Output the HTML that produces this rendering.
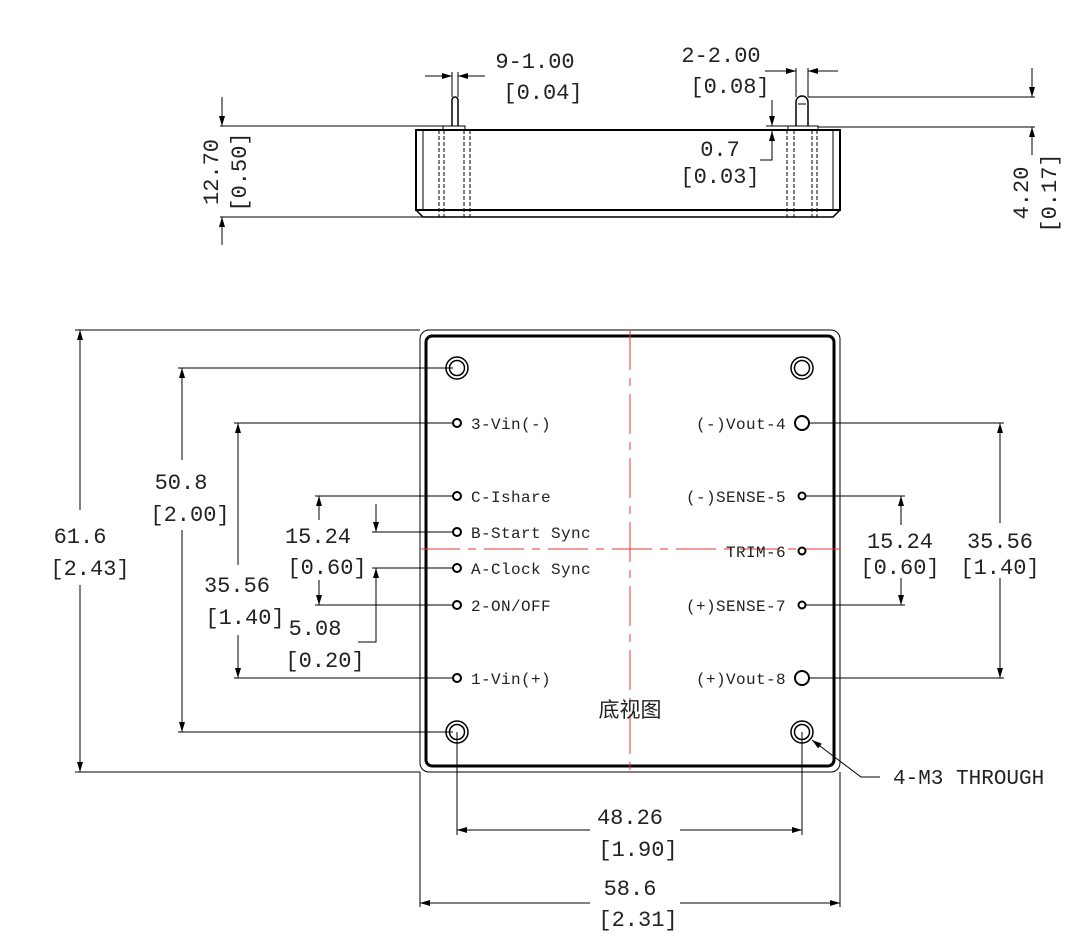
<!DOCTYPE html>
<html><head><meta charset="utf-8"><style>
html,body{margin:0;padding:0;background:#fff}
svg{display:block}
text{font-family:"Liberation Mono","Noto Serif CJK SC",monospace;fill:#222}
.d{font-size:22px;text-anchor:middle}
.l{font-size:16px;letter-spacing:0.4px}
</style></head><body>
<svg width="1089" height="948" viewBox="0 0 1089 948" xmlns="http://www.w3.org/2000/svg">
<defs>
<marker id="a" viewBox="0 0 10 10" refX="10" refY="5" markerWidth="10" markerHeight="10" markerUnits="userSpaceOnUse" orient="auto-start-reverse"><path d="M0,2 L10,5 L0,8 z" fill="#000"/></marker>
</defs>
<g stroke="#000" fill="none" stroke-width="1">
<rect x="416" y="130" width="424" height="80" stroke-width="2"/>
<path d="M416,210 L423,217 L833,217 L840,210" stroke-width="1.5"/>
<line x1="423" y1="130" x2="423" y2="210"/><line x1="833" y1="130" x2="833" y2="210"/>
<rect x="443" y="126" width="22" height="4"/><rect x="788" y="126" width="30" height="4"/>
<g stroke-dasharray="4,2">
<line x1="439" y1="130" x2="439" y2="217"/><line x1="444" y1="130" x2="444" y2="217"/><line x1="464" y1="130" x2="464" y2="217"/><line x1="470" y1="130" x2="470" y2="217"/>
<line x1="787" y1="130" x2="787" y2="217"/><line x1="794" y1="130" x2="794" y2="217"/><line x1="812" y1="130" x2="812" y2="217"/><line x1="817" y1="130" x2="817" y2="217"/>
</g>
<path d="M452,126 L452,100 A3,3 0 0 1 458,100 L458,126" stroke-width="1.5"/>
<path d="M796,126 L796,102 A6,6 0 0 1 808,102 L808,126" stroke-width="1.5"/>
<line x1="798" y1="104" x2="806" y2="104"/>
<line x1="220" y1="126" x2="443" y2="126"/><line x1="220" y1="217" x2="430" y2="217"/>
<line x1="222" y1="97" x2="222" y2="126" marker-end="url(#a)"/><line x1="222" y1="245" x2="222" y2="217" marker-end="url(#a)"/>
<line x1="808" y1="97" x2="1035" y2="97"/><line x1="818" y1="127" x2="1035" y2="127"/>
<line x1="1032" y1="68" x2="1032" y2="97" marker-end="url(#a)"/><line x1="1032" y1="155" x2="1032" y2="127" marker-end="url(#a)"/>
<line x1="452" y1="72" x2="452" y2="97"/><line x1="458" y1="72" x2="458" y2="97"/>
<line x1="425" y1="76" x2="452" y2="76" marker-end="url(#a)"/><line x1="485" y1="76" x2="458" y2="76" marker-end="url(#a)"/>
<line x1="796" y1="68" x2="796" y2="97"/><line x1="808" y1="68" x2="808" y2="97"/>
<line x1="765" y1="71" x2="796" y2="71" marker-end="url(#a)"/><line x1="838" y1="71" x2="808" y2="71" marker-end="url(#a)"/>
<line x1="772" y1="100" x2="772" y2="126" marker-end="url(#a)"/><path d="M760,160 L772,160 L772,131" marker-end="url(#a)"/>
<line x1="766" y1="126" x2="788" y2="126"/>
<rect x="420" y="330" width="420" height="442" rx="9"/>
<rect x="426" y="336" width="408" height="430" rx="6" stroke-width="3"/>
<g stroke="#e33" stroke-dasharray="40,8,8,8">
<line x1="630" y1="330" x2="630" y2="772"/><line x1="420" y1="549" x2="840" y2="549"/>
</g>
<g stroke-width="1.5">
<circle cx="457" cy="368" r="11"/><circle cx="457" cy="368" r="7.5"/>
<circle cx="802" cy="368" r="11"/><circle cx="802" cy="368" r="7.5"/>
<circle cx="457" cy="732" r="11"/><circle cx="457" cy="732" r="7.5"/>
<circle cx="802" cy="732" r="11"/><circle cx="802" cy="732" r="7.5"/>
</g>
<g stroke-width="2">
<circle cx="457" cy="423" r="4"/><circle cx="457" cy="496" r="4"/><circle cx="457" cy="532" r="4"/><circle cx="457" cy="568" r="4"/><circle cx="457" cy="605" r="4"/><circle cx="457" cy="678" r="4"/>
<circle cx="802" cy="423" r="7"/><circle cx="802" cy="496" r="3.5"/><circle cx="802" cy="551" r="3.5"/><circle cx="802" cy="605" r="3.5"/><circle cx="802" cy="678" r="7"/>
</g>
<line x1="75" y1="330" x2="420" y2="330"/><line x1="75" y1="772" x2="420" y2="772"/>
<line x1="80" y1="510" x2="80" y2="330" marker-end="url(#a)"/><line x1="80" y1="585" x2="80" y2="772" marker-end="url(#a)"/>
<line x1="178" y1="368" x2="453" y2="368"/><line x1="178" y1="732" x2="453" y2="732"/>
<line x1="182" y1="460" x2="182" y2="368" marker-end="url(#a)"/><line x1="182" y1="530" x2="182" y2="732" marker-end="url(#a)"/>
<line x1="234" y1="423" x2="453" y2="423"/><line x1="234" y1="678" x2="453" y2="678"/>
<line x1="238" y1="565" x2="238" y2="423" marker-end="url(#a)"/><line x1="238" y1="635" x2="238" y2="678" marker-end="url(#a)"/>
<line x1="315" y1="496" x2="453" y2="496"/><line x1="315" y1="605" x2="453" y2="605"/>
<line x1="319" y1="520" x2="319" y2="496" marker-end="url(#a)"/><line x1="319" y1="580" x2="319" y2="605" marker-end="url(#a)"/>
<line x1="372" y1="532" x2="453" y2="532"/><line x1="372" y1="568" x2="453" y2="568"/>
<line x1="376" y1="504" x2="376" y2="532" marker-end="url(#a)"/><path d="M358,642 L376,642 L376,568" marker-end="url(#a)"/>
<line x1="806" y1="496" x2="905" y2="496"/><line x1="806" y1="605" x2="905" y2="605"/>
<line x1="901" y1="525" x2="901" y2="496" marker-end="url(#a)"/><line x1="901" y1="578" x2="901" y2="605" marker-end="url(#a)"/>
<line x1="809" y1="423" x2="1004" y2="423"/><line x1="809" y1="678" x2="1004" y2="678"/>
<line x1="1000" y1="523" x2="1000" y2="423" marker-end="url(#a)"/><line x1="1000" y1="578" x2="1000" y2="678" marker-end="url(#a)"/>
<line x1="457" y1="732" x2="457" y2="835"/><line x1="802" y1="732" x2="802" y2="835"/>
<line x1="590" y1="830" x2="457" y2="830" marker-end="url(#a)"/><line x1="680" y1="830" x2="802" y2="830" marker-end="url(#a)"/>
<line x1="420" y1="772" x2="420" y2="907"/><line x1="840" y1="772" x2="840" y2="907"/>
<line x1="590" y1="903" x2="420" y2="903" marker-end="url(#a)"/><line x1="680" y1="903" x2="840" y2="903" marker-end="url(#a)"/>
<path d="M880,777 L861,777 L812,740" marker-end="url(#a)"/>
</g>
<text class="d" x="535" y="68">9-1.00</text>
<text class="d" x="543" y="99">[0.04]</text>
<text class="d" x="721" y="62">2-2.00</text>
<text class="d" x="730" y="93">[0.08]</text>
<text class="d" x="720" y="156">0.7</text>
<text class="d" x="720" y="183">[0.03]</text>
<text class="d" transform="translate(218,172) rotate(-90)">12.70</text>
<text class="d" transform="translate(246,172) rotate(-90)">[0.50]</text>
<text class="d" transform="translate(1028,193) rotate(-90)">4.20</text>
<text class="d" transform="translate(1056,193) rotate(-90)">[0.17]</text>
<text class="d" x="80" y="543">61.6</text><text class="d" x="90" y="575">[2.43]</text>
<text class="d" x="181" y="489">50.8</text><text class="d" x="190" y="521">[2.00]</text>
<text class="d" x="237" y="592">35.56</text><text class="d" x="245" y="624">[1.40]</text>
<text class="d" x="318" y="543">15.24</text><text class="d" x="327" y="574">[0.60]</text>
<text class="d" x="315" y="635">5.08</text><text class="d" x="325" y="667">[0.20]</text>
<text class="d" x="900" y="548">15.24</text><text class="d" x="900" y="574">[0.60]</text>
<text class="d" x="1000" y="548">35.56</text><text class="d" x="1000" y="574">[1.40]</text>
<text class="d" x="630" y="824">48.26</text><text class="d" x="638" y="856">[1.90]</text>
<text class="d" x="630" y="895">58.6</text><text class="d" x="638" y="926">[2.31]</text>
<text x="893" y="784" style="font-size:21px">4-M3 THROUGH</text>
<text x="630" y="717" style="font-size:21px;text-anchor:middle;font-family:'Noto Sans CJK SC',sans-serif">底视图</text>
<text class="l" x="471" y="429">3-Vin(-)</text>
<text class="l" x="471" y="502">C-Ishare</text>
<text class="l" x="471" y="538">B-Start Sync</text>
<text class="l" x="471" y="574">A-Clock Sync</text>
<text class="l" x="471" y="611">2-ON/OFF</text>
<text class="l" x="471" y="684">1-Vin(+)</text>
<g style="text-anchor:end">
<text class="l" x="786" y="429">(-)Vout-4</text>
<text class="l" x="786" y="502">(-)SENSE-5</text>
<text class="l" x="786" y="557">TRIM-6</text>
<text class="l" x="786" y="611">(+)SENSE-7</text>
<text class="l" x="786" y="684">(+)Vout-8</text>
</g>
</svg>
</body></html>
